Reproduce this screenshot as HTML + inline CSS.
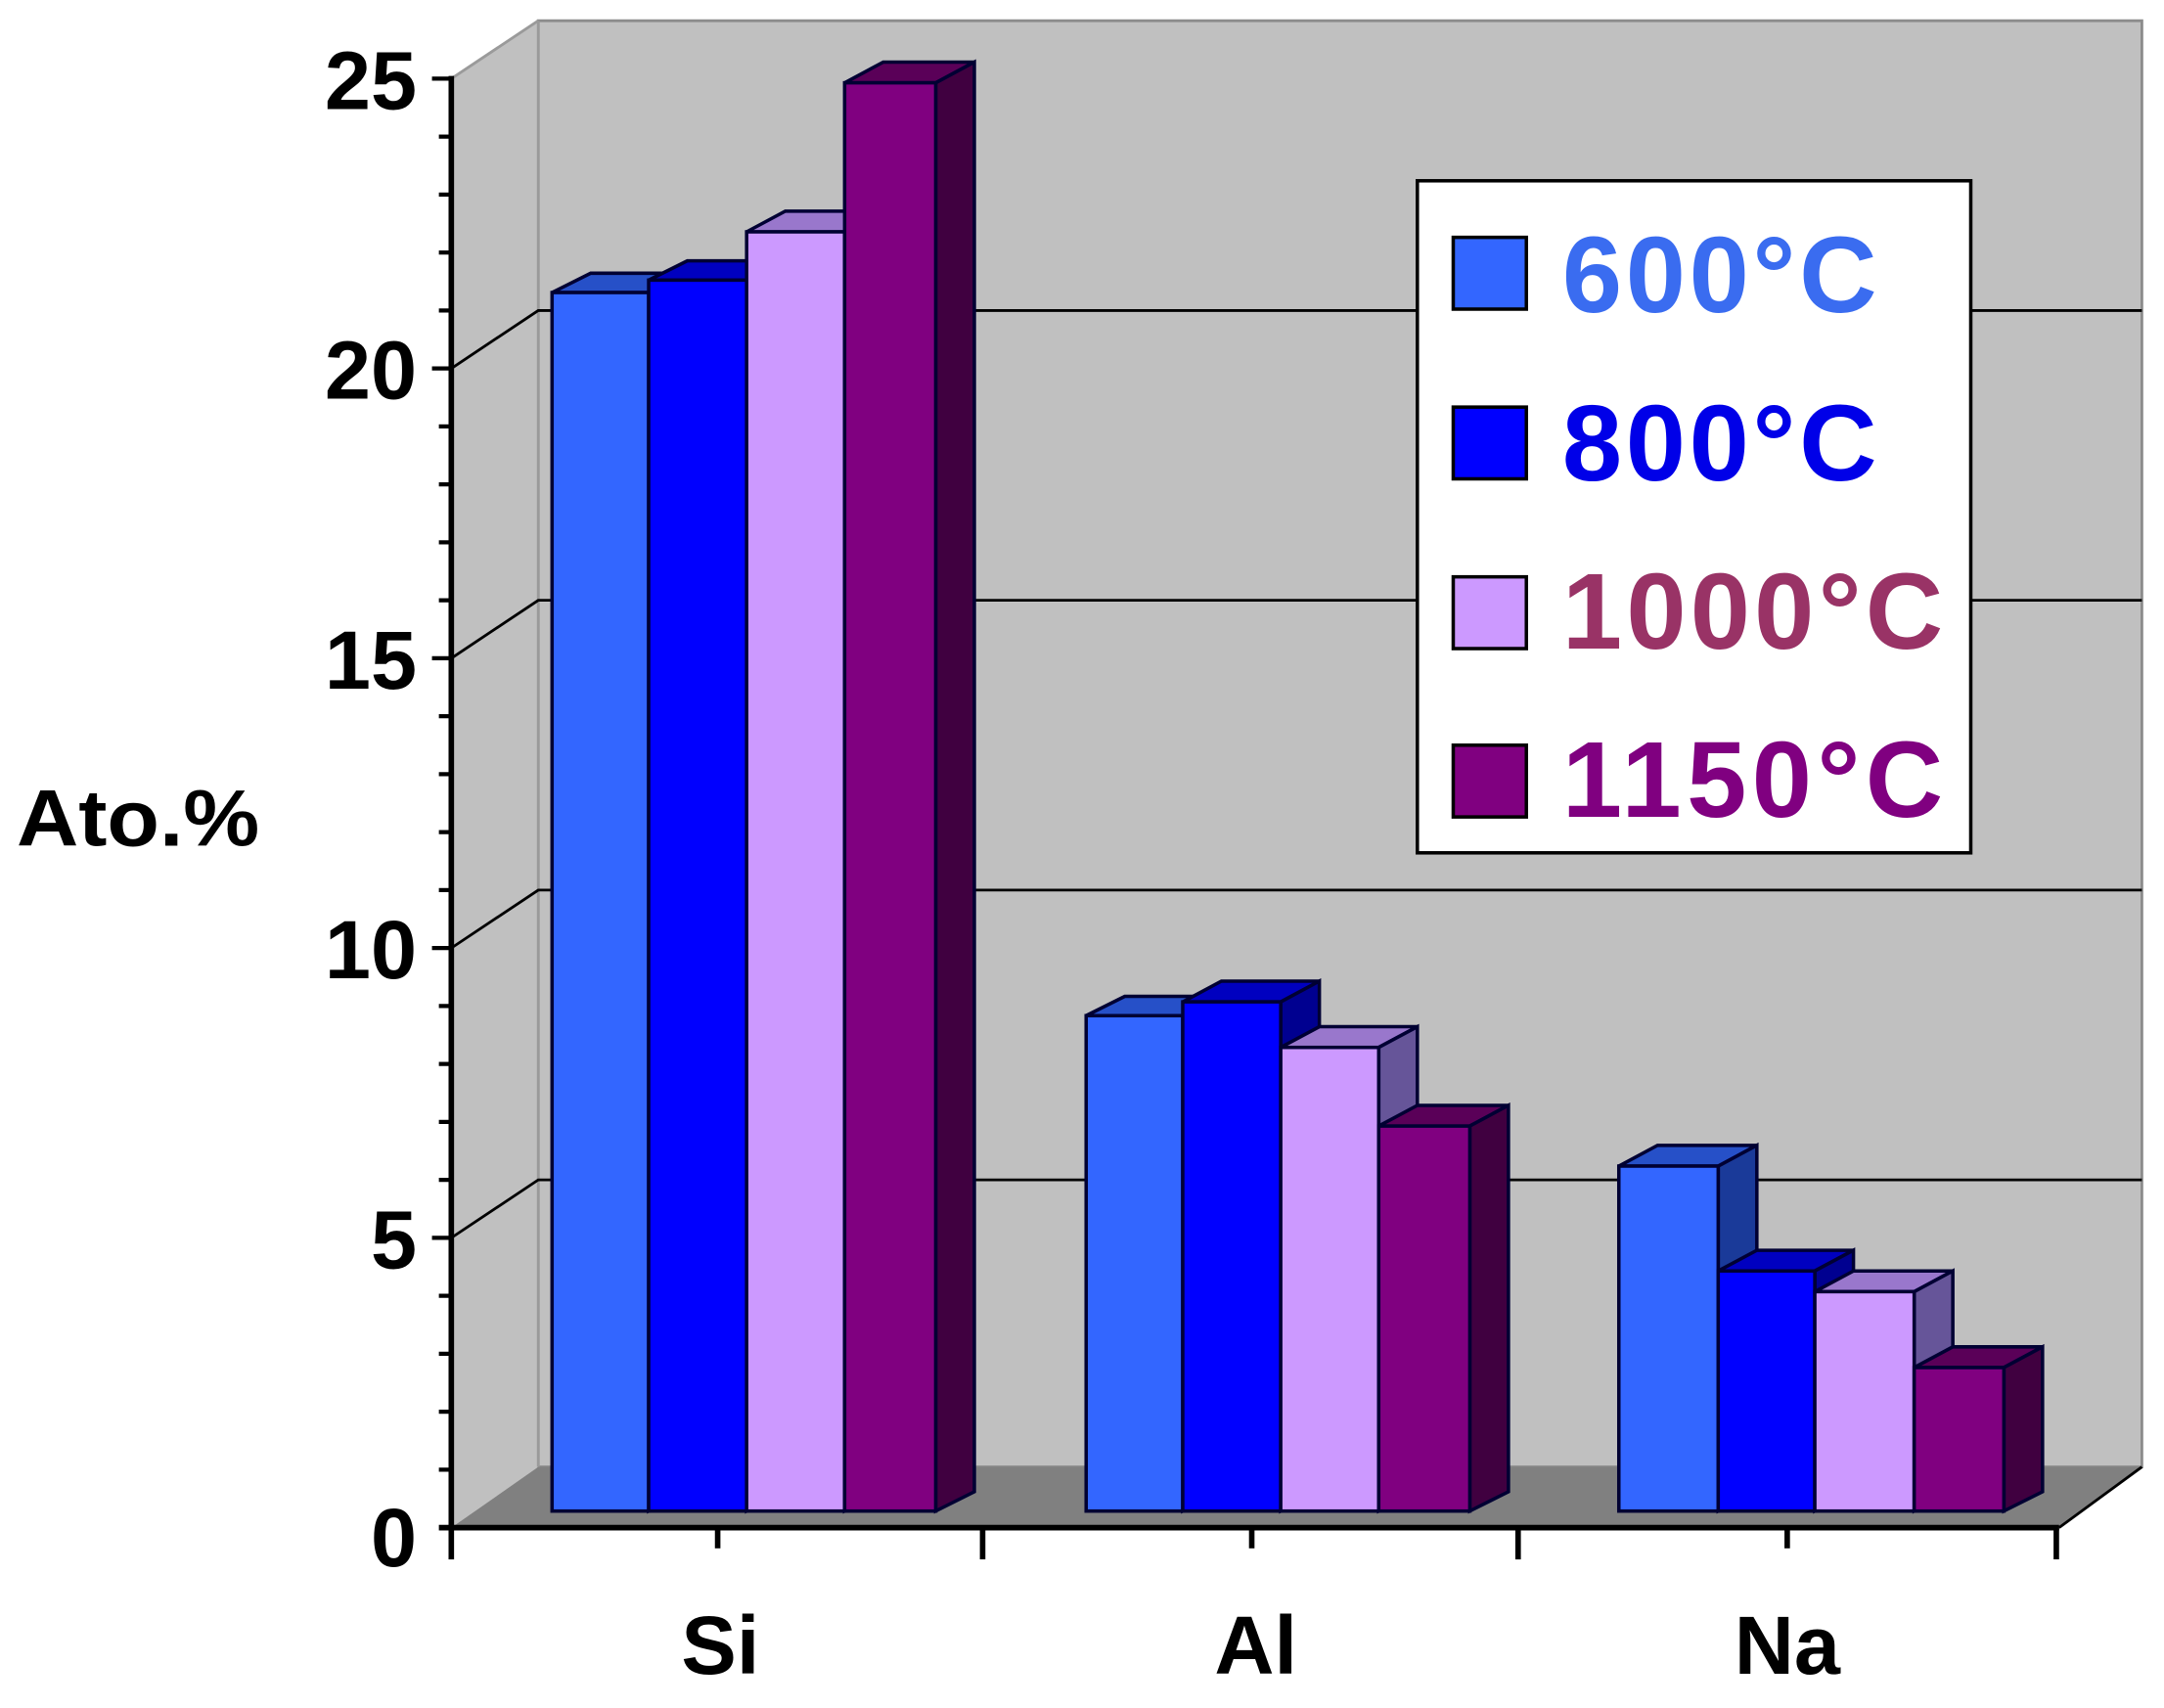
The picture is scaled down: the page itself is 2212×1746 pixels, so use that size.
<!DOCTYPE html>
<html><head><meta charset="utf-8"><style>
html,body{margin:0;padding:0;background:#fff;}
svg{display:block;}
text{font-family:"Liberation Sans",Arial,sans-serif;font-weight:bold;}
</style></head><body>
<svg width="2212" height="1746" viewBox="0 0 1568 1237.7" xmlns="http://www.w3.org/2000/svg">
<rect width="1568" height="1238" fill="#fff"/>
<!-- walls -->
<polygon points="390,15 1552,15 1552,1063 390,1063" fill="#c0c0c0" stroke="#8c8c8c" stroke-width="2"/>
<polygon points="327,57 390,15 390,1063 327,1107" fill="#c0c0c0"/>
<line x1="390" y1="15" x2="390" y2="1063" stroke="#9a9a9a" stroke-width="2"/>
<line x1="327" y1="57" x2="390" y2="15" stroke="#9a9a9a" stroke-width="2"/>
<!-- gridlines -->
<g stroke="#000" stroke-width="2" fill="none">
<polyline points="327,267 390,225 1552,225"/>
<polyline points="327,477 390,435 1552,435"/>
<polyline points="327,687 390,645 1552,645"/>
<polyline points="327,897 390,855 1552,855"/>
</g>
<!-- floor -->
<polygon points="327,1107 390,1063 1552,1063 1492,1107" fill="#808080"/>
<line x1="1492" y1="1107" x2="1552" y2="1063" stroke="#000" stroke-width="2"/>
<!-- bars -->
<g stroke="#000033" stroke-width="2.5" stroke-linejoin="miter">
<!-- Si -->
<polygon points="400,212 428,198 498,198 470,212" fill="#2650c8"/>
<polygon points="470,212 498,198 498,1081 470,1095" fill="#1a3a99"/>
<rect x="400" y="212" width="70" height="883" fill="#3366ff"/>
<polygon points="470,203 498,189 569,189 541,203" fill="#0000c0"/>
<polygon points="541,203 569,189 569,1081 541,1095" fill="#000090"/>
<rect x="470" y="203" width="71" height="892" fill="#0000ff"/>
<polygon points="541,168 569,153 640,153 612,168" fill="#9977cc"/>
<polygon points="612,168 640,153 640,1081 612,1095" fill="#665599"/>
<rect x="541" y="168" width="71" height="927" fill="#cc99ff"/>
<polygon points="612,60 640,45 706,45 678,60" fill="#5a0058"/>
<polygon points="678,60 706,45 706,1081 678,1095" fill="#400040"/>
<rect x="612" y="60" width="66" height="1035" fill="#800080"/>
<!-- Al -->
<polygon points="787,736 815,722 885,722 857,736" fill="#2650c8"/>
<polygon points="857,736 885,722 885,1081 857,1095" fill="#1a3a99"/>
<rect x="787" y="736" width="70" height="359" fill="#3366ff"/>
<polygon points="857,726 885,711 956,711 928,726" fill="#0000c0"/>
<polygon points="928,726 956,711 956,1081 928,1095" fill="#000090"/>
<rect x="857" y="726" width="71" height="369" fill="#0000ff"/>
<polygon points="928,759 956,744 1027,744 999,759" fill="#9977cc"/>
<polygon points="999,759 1027,744 1027,1081 999,1095" fill="#665599"/>
<rect x="928" y="759" width="71" height="336" fill="#cc99ff"/>
<polygon points="999,816 1027,801 1093,801 1065,816" fill="#5a0058"/>
<polygon points="1065,816 1093,801 1093,1081 1065,1095" fill="#400040"/>
<rect x="999" y="816" width="66" height="279" fill="#800080"/>
<!-- Na -->
<polygon points="1173,845 1201,830 1273,830 1245,845" fill="#2650c8"/>
<polygon points="1245,845 1273,830 1273,1081 1245,1095" fill="#1a3a99"/>
<rect x="1173" y="845" width="72" height="250" fill="#3366ff"/>
<polygon points="1245,921 1273,906 1343,906 1315,921" fill="#0000c0"/>
<polygon points="1315,921 1343,906 1343,1081 1315,1095" fill="#000090"/>
<rect x="1245" y="921" width="70" height="174" fill="#0000ff"/>
<polygon points="1315,936 1343,921 1415,921 1387,936" fill="#9977cc"/>
<polygon points="1387,936 1415,921 1415,1081 1387,1095" fill="#665599"/>
<rect x="1315" y="936" width="72" height="159" fill="#cc99ff"/>
<polygon points="1387,991 1415,976 1480,976 1452,991" fill="#5a0058"/>
<polygon points="1452,991 1480,976 1480,1081 1452,1095" fill="#400040"/>
<rect x="1387" y="991" width="65" height="104" fill="#800080"/>
</g>
<!-- axes -->
<g stroke="#000" stroke-width="4">
<line x1="327" y1="55" x2="327" y2="1130"/>
<line x1="318" y1="1107" x2="1492" y2="1107"/>
<line x1="712" y1="1107" x2="712" y2="1130"/>
<line x1="1100" y1="1107" x2="1100" y2="1130"/>
<line x1="1490" y1="1107" x2="1490" y2="1130"/>
<line x1="520" y1="1107" x2="520" y2="1122"/>
<line x1="907" y1="1107" x2="907" y2="1122"/>
<line x1="1295" y1="1107" x2="1295" y2="1122"/>
</g>
<g stroke="#000" stroke-width="3">
<line x1="313" y1="57" x2="327" y2="57"/><line x1="318" y1="99" x2="327" y2="99"/><line x1="318" y1="141" x2="327" y2="141"/><line x1="318" y1="183" x2="327" y2="183"/><line x1="318" y1="225" x2="327" y2="225"/>
<line x1="313" y1="267" x2="327" y2="267"/><line x1="318" y1="309" x2="327" y2="309"/><line x1="318" y1="351" x2="327" y2="351"/><line x1="318" y1="393" x2="327" y2="393"/><line x1="318" y1="435" x2="327" y2="435"/>
<line x1="313" y1="477" x2="327" y2="477"/><line x1="318" y1="519" x2="327" y2="519"/><line x1="318" y1="561" x2="327" y2="561"/><line x1="318" y1="603" x2="327" y2="603"/><line x1="318" y1="645" x2="327" y2="645"/>
<line x1="313" y1="687" x2="327" y2="687"/><line x1="318" y1="729" x2="327" y2="729"/><line x1="318" y1="771" x2="327" y2="771"/><line x1="318" y1="813" x2="327" y2="813"/><line x1="318" y1="855" x2="327" y2="855"/>
<line x1="313" y1="897" x2="327" y2="897"/><line x1="318" y1="939" x2="327" y2="939"/><line x1="318" y1="981" x2="327" y2="981"/><line x1="318" y1="1023" x2="327" y2="1023"/><line x1="318" y1="1065" x2="327" y2="1065"/>
</g>
<!-- y labels -->
<g font-size="60" text-anchor="end" fill="#000">
<text x="302" y="79">25</text>
<text x="302" y="289">20</text>
<text x="302" y="499">15</text>
<text x="302" y="709">10</text>
<text x="302" y="919">5</text>
<text x="302" y="1135">0</text>
</g>
<text x="12" y="613" font-size="58" textLength="176" lengthAdjust="spacingAndGlyphs">Ato.%</text>
<g font-size="60" text-anchor="middle" fill="#000">
<text x="522" y="1213">Si</text>
<text x="910" y="1213">Al</text>
<text x="1295" y="1213">Na</text>
</g>
<!-- legend -->
<rect x="1027" y="131" width="401" height="487" fill="#fff" stroke="#000" stroke-width="2.5"/>
<g stroke="#000" stroke-width="2.5">
<rect x="1053" y="172" width="53" height="52" fill="#3366ff"/>
<rect x="1053" y="295" width="53" height="52" fill="#0000ff"/>
<rect x="1053" y="418" width="53" height="52" fill="#cc99ff"/>
<rect x="1053" y="540" width="53" height="52" fill="#800080"/>
</g>
<g font-size="78" lengthAdjust="spacingAndGlyphs">
<text x="1132" y="226" fill="#3a6cf0" textLength="228">600°C</text>
<text x="1132" y="348" fill="#0000e8" textLength="228">800°C</text>
<text x="1132" y="470" fill="#993366" textLength="276">1000°C</text>
<text x="1132" y="592" fill="#800080" textLength="276">1150°C</text>
</g>
</svg>
</body></html>
